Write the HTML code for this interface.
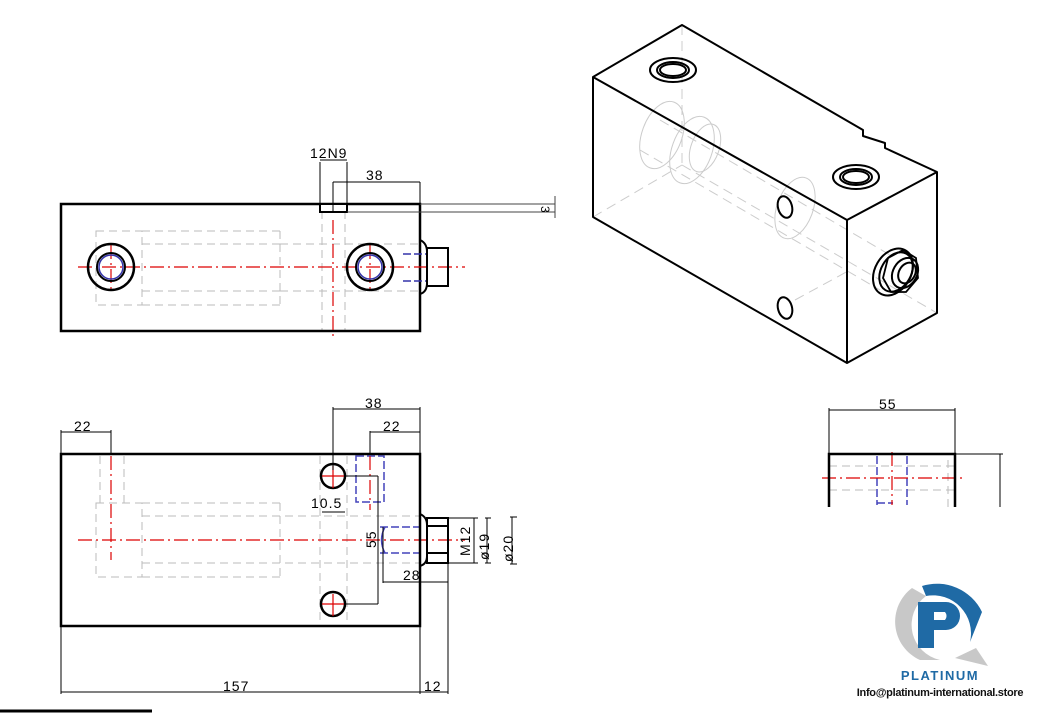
<!DOCTYPE html>
<html><head><meta charset="utf-8"><style>
html,body{margin:0;padding:0;background:#fff;width:1045px;height:713px;overflow:hidden}
svg{display:block}
text{font-family:"Liberation Sans",sans-serif;}
</style></head><body>
<svg width="1045" height="713" viewBox="0 0 1045 713" xmlns="http://www.w3.org/2000/svg">
<g fill="none">
<!-- ===== TOP VIEW ===== -->
<g stroke="#bbb" stroke-width="1" stroke-dasharray="8,5">
<rect x="96" y="231" width="46" height="74"/>
<line x1="142" y1="244" x2="280" y2="244"/><line x1="142" y1="291" x2="280" y2="291"/>
<line x1="280" y1="231" x2="280" y2="305"/>
<line x1="142" y1="231" x2="280" y2="231"/><line x1="142" y1="305" x2="280" y2="305"/>
<line x1="280" y1="244" x2="420" y2="244"/><line x1="280" y1="291" x2="420" y2="291"/>
<line x1="322" y1="211" x2="322" y2="331"/><line x1="345" y1="211" x2="345" y2="331"/>
</g>
<rect x="61" y="204" width="359" height="127" stroke="#000" stroke-width="2.5"/>
<rect x="320" y="204" width="27" height="8" stroke="#000" stroke-width="2" fill="#fff"/>
<line x1="347" y1="212" x2="555" y2="212" stroke="#444" stroke-width="1"/>
<line x1="420" y1="204" x2="555" y2="204" stroke="#444" stroke-width="1"/>
<line x1="555" y1="196" x2="555" y2="218" stroke="#444" stroke-width="1"/>
<g stroke="#d00" stroke-width="1.2" stroke-dasharray="14,4,2,4">
<line x1="78" y1="267" x2="465" y2="267"/>
<line x1="333" y1="220" x2="333" y2="340"/>
<line x1="111" y1="245" x2="111" y2="290"/><line x1="370" y1="245" x2="370" y2="290"/>
</g>
<circle cx="111" cy="267" r="23" stroke="#000" stroke-width="2.5"/>
<circle cx="111" cy="267" r="14" stroke="#000" stroke-width="2"/>
<circle cx="111" cy="267" r="12" stroke="#33a" stroke-width="1.5"/>
<circle cx="370" cy="267" r="23" stroke="#000" stroke-width="2.5"/>
<circle cx="370" cy="267" r="14" stroke="#000" stroke-width="2"/>
<circle cx="370" cy="267" r="12" stroke="#33a" stroke-width="1.5"/>
<line x1="403" y1="254" x2="428" y2="254" stroke="#33a" stroke-width="1.5" stroke-dasharray="8,3"/>
<line x1="403" y1="281" x2="428" y2="281" stroke="#33a" stroke-width="1.5" stroke-dasharray="8,3"/>
<path d="M420 240 Q427 243 427 252 L427 283 Q427 292 420 294" stroke="#000" stroke-width="2"/>
<rect x="427" y="248" width="21" height="38" stroke="#000" stroke-width="2"/>
<line x1="320" y1="162" x2="320" y2="204" stroke="#000"/><line x1="347" y1="162" x2="347" y2="204" stroke="#000"/>
<line x1="320" y1="160" x2="347" y2="160" stroke="#000"/>
<line x1="333" y1="182" x2="420" y2="182" stroke="#000"/>
<line x1="333" y1="182" x2="333" y2="212" stroke="#000"/>
<line x1="420" y1="182" x2="420" y2="204" stroke="#000"/>
</g>
<text x="310" y="158" font-size="14" fill="#000" letter-spacing="1">12N9</text>
<text x="366" y="180" font-size="14" fill="#000" letter-spacing="1">38</text>
<text x="541" y="214" font-size="12" fill="#000" transform="rotate(90 545 210)">3</text>

<!-- ===== BOTTOM VIEW ===== -->
<g fill="none">
<g stroke="#bbb" stroke-width="1" stroke-dasharray="8,5">
<rect x="96" y="503" width="46" height="74"/>
<line x1="100" y1="456" x2="100" y2="503"/><line x1="124" y1="456" x2="124" y2="503"/>
<line x1="142" y1="503" x2="280" y2="503"/><line x1="142" y1="577" x2="280" y2="577"/>
<line x1="280" y1="503" x2="280" y2="577"/>
<line x1="142" y1="516" x2="420" y2="516"/><line x1="142" y1="563" x2="420" y2="563"/>
<line x1="320" y1="456" x2="320" y2="626"/><line x1="347" y1="456" x2="347" y2="626"/>
</g>
<g stroke="#44b" stroke-width="1.5" stroke-dasharray="8,3">
<rect x="356" y="456" width="28" height="46"/>
<line x1="380" y1="527" x2="420" y2="527"/><line x1="380" y1="553" x2="420" y2="553"/>
</g>
<path d="M385 527 Q378 540 385 553" stroke="#44b" stroke-width="1.5"/>
<g stroke="#d00" stroke-width="1.2" stroke-dasharray="14,4,2,4">
<line x1="78" y1="540" x2="465" y2="540"/>
<line x1="111" y1="456" x2="111" y2="560"/>
<line x1="370" y1="456" x2="370" y2="510"/>
</g>
<rect x="61" y="454" width="359" height="172" stroke="#000" stroke-width="2.5"/>
<circle cx="333" cy="476" r="12" stroke="#000" stroke-width="2.5"/>
<circle cx="333" cy="604" r="12" stroke="#000" stroke-width="2.5"/>
<g stroke="#d00" stroke-width="1.2"><line x1="322" y1="476" x2="344" y2="476"/><line x1="333" y1="466" x2="333" y2="488"/><line x1="322" y1="604" x2="344" y2="604"/><line x1="333" y1="594" x2="333" y2="616"/></g>
<path d="M420 514 Q427 517 427 525 L427 556 Q427 564 420 566" stroke="#000" stroke-width="2"/>
<rect x="427" y="518" width="21" height="45" stroke="#000" stroke-width="2"/>
<line x1="427" y1="526" x2="448" y2="526" stroke="#000" stroke-width="2"/>
<line x1="427" y1="553" x2="448" y2="553" stroke="#000" stroke-width="2"/>
<g stroke="#000" stroke-width="1">
<line x1="61" y1="430" x2="61" y2="454"/><line x1="111" y1="430" x2="111" y2="454"/><line x1="61" y1="432" x2="111" y2="432"/>
<line x1="333" y1="407" x2="333" y2="470"/><line x1="420" y1="407" x2="420" y2="454"/><line x1="333" y1="409" x2="420" y2="409"/>
<line x1="370" y1="431" x2="370" y2="454"/><line x1="370" y1="432" x2="420" y2="432"/>
<line x1="345" y1="476" x2="378" y2="476"/><line x1="378" y1="476" x2="378" y2="604"/><line x1="345" y1="604" x2="378" y2="604"/>
<line x1="322" y1="512" x2="345" y2="512"/>
<line x1="383" y1="527" x2="383" y2="583"/><line x1="448" y1="563" x2="448" y2="694"/><line x1="383" y1="582" x2="448" y2="582"/>
<line x1="448" y1="518" x2="478" y2="518"/><line x1="448" y1="563" x2="478" y2="563"/>
<line x1="474" y1="518" x2="474" y2="563"/>
<line x1="485" y1="518" x2="491" y2="518"/><line x1="485" y1="563" x2="491" y2="563"/><line x1="487" y1="518" x2="487" y2="563"/>
<line x1="510" y1="517" x2="517" y2="517"/><line x1="510" y1="564" x2="517" y2="564"/><line x1="512" y1="517" x2="512" y2="564"/>
<line x1="61" y1="626" x2="61" y2="694"/><line x1="420" y1="626" x2="420" y2="694"/>
<line x1="61" y1="692" x2="448" y2="692"/>
</g>
</g>
<g font-size="14" fill="#000" letter-spacing="1">
<text x="74" y="431">22</text>
<text x="365" y="408">38</text>
<text x="383" y="431">22</text>
<text x="311" y="508">10.5</text>
<text x="403" y="580">28</text>
<text x="223" y="691">157</text>
<text x="424" y="691">12</text>
<text transform="translate(376 548) rotate(-90)">55</text>
<text transform="translate(470 556) rotate(-90)">M12</text>
<text transform="translate(489 560) rotate(-90)">ø19</text>
<text transform="translate(513 562) rotate(-90)">ø20</text>
</g>

<!-- ===== SIDE VIEW ===== -->
<g fill="none">
<g stroke="#bbb" stroke-dasharray="8,5"><line x1="829" y1="466" x2="955" y2="466"/><line x1="829" y1="490" x2="955" y2="490"/><line x1="948" y1="460" x2="948" y2="507"/></g>
<g stroke="#44b" stroke-width="1.5" stroke-dasharray="8,3"><line x1="877" y1="456" x2="877" y2="505"/><line x1="907" y1="456" x2="907" y2="505"/><line x1="877" y1="503" x2="893" y2="503"/></g>
<g stroke="#d00" stroke-width="1.2" stroke-dasharray="14,4,2,4"><line x1="822" y1="478" x2="962" y2="478"/><line x1="892" y1="452" x2="892" y2="505"/></g>
<path d="M829 507 L829 454 L955 454 L955 507" stroke="#000" stroke-width="2.5"/>
<g stroke="#000" stroke-width="1"><line x1="829" y1="408" x2="829" y2="454"/><line x1="955" y1="408" x2="955" y2="454"/><line x1="829" y1="410" x2="955" y2="410"/><line x1="955" y1="454" x2="1003" y2="454"/><line x1="1000" y1="454" x2="1000" y2="507"/></g>
</g>
<text x="879" y="409" font-size="14" fill="#000" letter-spacing="1">55</text>

<!-- ===== ISO VIEW ===== -->
<g fill="none">
<g stroke="#ccc" stroke-width="1">
<ellipse cx="662" cy="135" rx="20" ry="35" transform="rotate(20 662 135)"/>
<ellipse cx="692" cy="150" rx="20" ry="35" transform="rotate(20 692 150)"/>
<ellipse cx="705" cy="148" rx="14" ry="25" transform="rotate(20 705 148)"/>
<ellipse cx="795" cy="208" rx="18" ry="32" transform="rotate(20 795 208)"/>
<g stroke-dasharray="10,6">
<line x1="593" y1="217" x2="682" y2="165"/><line x1="682" y1="25" x2="682" y2="165"/><line x1="682" y1="165" x2="937" y2="313"/>
<line x1="640" y1="150" x2="880" y2="290"/><line x1="660" y1="120" x2="890" y2="255"/>
<line x1="795" y1="300" x2="850" y2="270"/>
</g>
</g>
<path d="M593 77 L682 25 L863 130 L863 136 L885 143 L885 148 L937 172 L937 313 L847 363 L593 217 Z" stroke="#000" stroke-width="2" stroke-linejoin="round"/>
<path d="M593 77 L847 220 L937 172 M847 220 L847 363" stroke="#000" stroke-width="2"/>
<g stroke="#000" stroke-width="2">
<ellipse cx="673" cy="70" rx="23" ry="12"/><ellipse cx="673" cy="70" rx="16" ry="8"/><ellipse cx="673" cy="70" rx="13" ry="6"/>
<ellipse cx="856" cy="177" rx="23" ry="12"/><ellipse cx="856" cy="177" rx="16" ry="8"/><ellipse cx="856" cy="177" rx="13" ry="6"/>
<ellipse cx="785" cy="207" rx="7" ry="11" transform="rotate(-15 785 207)"/>
<ellipse cx="785" cy="308" rx="7" ry="11" transform="rotate(-15 785 308)"/>
<ellipse cx="893" cy="272" rx="18" ry="25" transform="rotate(30 893 272)"/>
<ellipse cx="896" cy="272" rx="15" ry="21" transform="rotate(30 896 272)"/>
<path d="M888 258 L903 250 L916 258 L918 278 L906 292 L891 292 L883 278 Z" stroke-width="1.8"/>
<ellipse cx="905" cy="273" rx="12" ry="16" transform="rotate(30 905 273)"/>
<ellipse cx="907" cy="273" rx="8" ry="11" transform="rotate(30 907 273)"/>
</g>
</g>

<!-- bottom-left stray line -->
<line x1="0" y1="711" x2="152" y2="711" stroke="#000" stroke-width="3"/>

<!-- ===== LOGO ===== -->
<path d="M912 588 A42 42 0 0 0 920 660 L940 660 A36 36 0 0 1 926 596 Z" fill="#c8c8c8"/>
<path d="M955 658 L988 666 L976 648 Z" fill="#c8c8c8"/>
<path d="M922 586 A50 50 0 0 1 982 612 L970 642 A38 38 0 0 0 926 596 Z" fill="#1f6aa5"/>
<path d="M918 602 L918 648 L934 648 L934 630 L946 630 A14 14 0 0 0 946 602 Z M934 612 L945 612 A6 6 0 0 1 945 620 L934 620 Z" fill="#1f6aa5" fill-rule="evenodd"/>
<text x="940" y="680" font-size="13" font-weight="bold" fill="#1f6aa5" text-anchor="middle" letter-spacing="1.5">PLATINUM</text>
<text x="940" y="696" font-size="11" font-weight="bold" fill="#111" text-anchor="middle" letter-spacing="-0.3">Info@platinum-international.store</text>
</svg>
</body></html>
